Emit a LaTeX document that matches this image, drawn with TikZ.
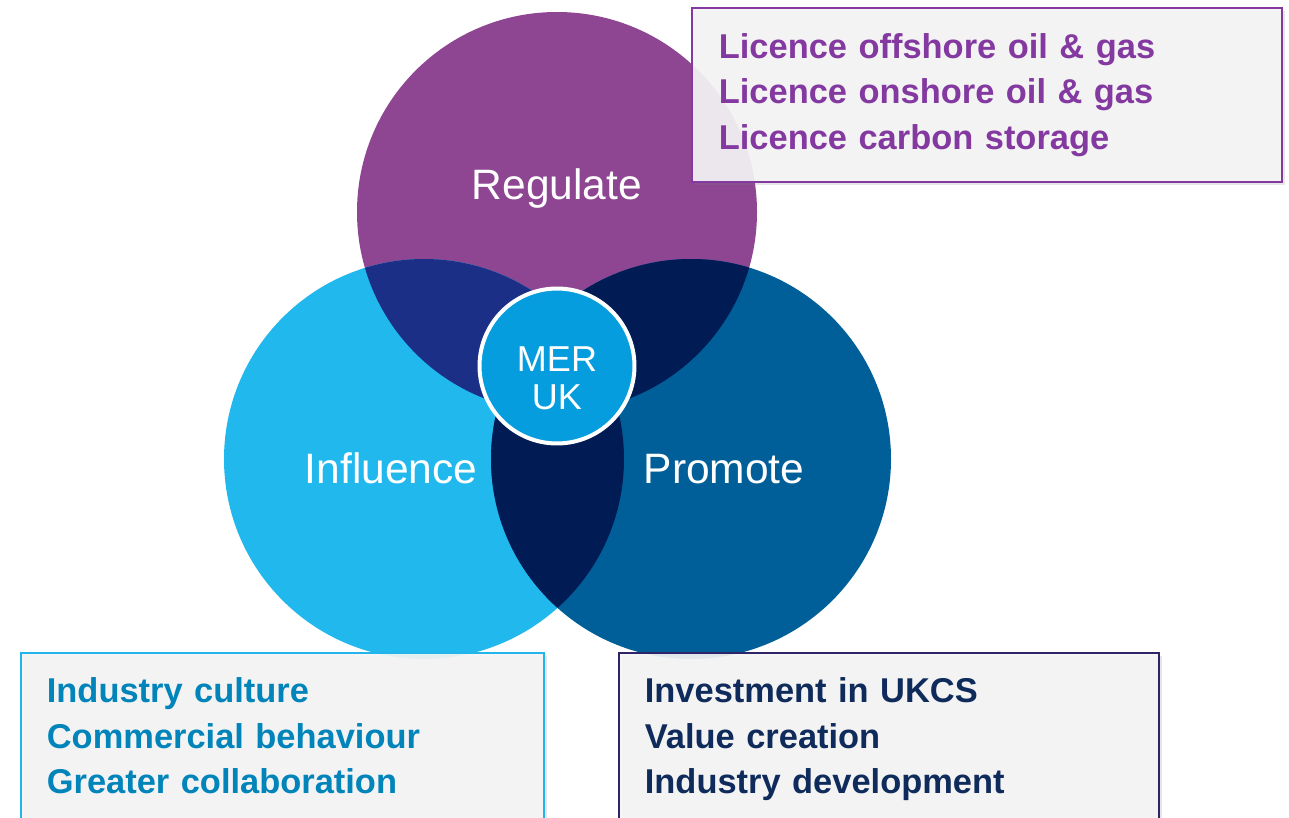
\documentclass[tikz,border=0pt]{standalone}
\usepackage{fontspec}
\setmainfont{Liberation Sans}
\usetikzlibrary{shadows}
\definecolor{regulatecol}{HTML}{8E4592}
\definecolor{influencecol}{HTML}{21B9ED}
\definecolor{promotecol}{HTML}{005F98}
\definecolor{reginfcol}{HTML}{1B2F86}
\definecolor{navycol}{HTML}{011B55}
\definecolor{mercol}{HTML}{069DDE}
\definecolor{boxgray}{HTML}{F4F4F4}
\definecolor{regtext}{HTML}{8339A0}
\definecolor{inftext}{HTML}{0084BA}
\definecolor{infline}{HTML}{22B5EA}
\definecolor{protext}{HTML}{0F2B5B}
\definecolor{proline}{HTML}{2E2468}
\tikzset{
    every node/.style={align=center,},
    venntext/.style={text=white, anchor=base, font=\fontsize{24.2pt}{26pt}\selectfont,},
    infobox/.style={draw, line width=1pt, fill=boxgray, fill opacity=0.92, text opacity=1,
        align=left, anchor=north west, inner xsep=0.52cm, inner ysep=0.5cm,
        font=\bfseries\fontsize{19.6pt}{25.9pt}\selectfont,
        drop shadow={shadow xshift=0.07cm, shadow yshift=-0.07cm, opacity=0.2},},
}

\begin{document}
\begin{tikzpicture}[x=0.02cm, y=0.02cm]
    \useasboundingbox (0,0) rectangle (1289,-818);

    \coordinate (reg) at (557,-212);
    \coordinate (inf) at (424,-459);
    \coordinate (pro) at (691,-459);

    \fill[regulatecol] (reg) circle[radius=200];
    \fill[influencecol] (inf) circle[radius=200];
    \fill[promotecol] (pro) circle[radius=200];

    % overlaps
    \begin{scope}
        \clip (reg) circle[radius=200];
        \fill[reginfcol] (inf) circle[radius=200];
        \fill[navycol] (pro) circle[radius=200];
    \end{scope}
    \begin{scope}
        \clip (inf) circle[radius=200];
        \fill[navycol] (pro) circle[radius=200];
    \end{scope}

    \node[circle, draw=white, line width=0.08cm, fill=mercol, minimum size=3.1cm] (meruk) at (557,-366) {};
    \node[text=white, font=\fontsize{20.5pt}{21.6pt}\selectfont] (merlabel) at (557,-378) {MER\\UK};

    \node[venntext] (regulate) at (557,-199) {Regulate};
    \node[venntext] (influence) at (391,-483) {Influence};
    \node[venntext] (promote) at (724,-483) {Promote};

    \node[infobox, draw=regtext, text=regtext, text width=10.72cm, inner xsep=0.54cm,
        minimum height=3.48cm] (regbox) at (691,-7)
        {Licence offshore oil \& gas\\Licence onshore oil \& gas\\Licence carbon storage};
    \node[infobox, draw=infline, text=inftext, text width=9.42cm] (infbox) at (20,-652)
        {Industry culture\\Commercial behaviour\\Greater collaboration};
    \node[infobox, draw=proline, text=protext, text width=9.76cm] (probox) at (618,-652)
        {Investment in UKCS\\Value creation\\Industry development};
\end{tikzpicture}
\end{document}
